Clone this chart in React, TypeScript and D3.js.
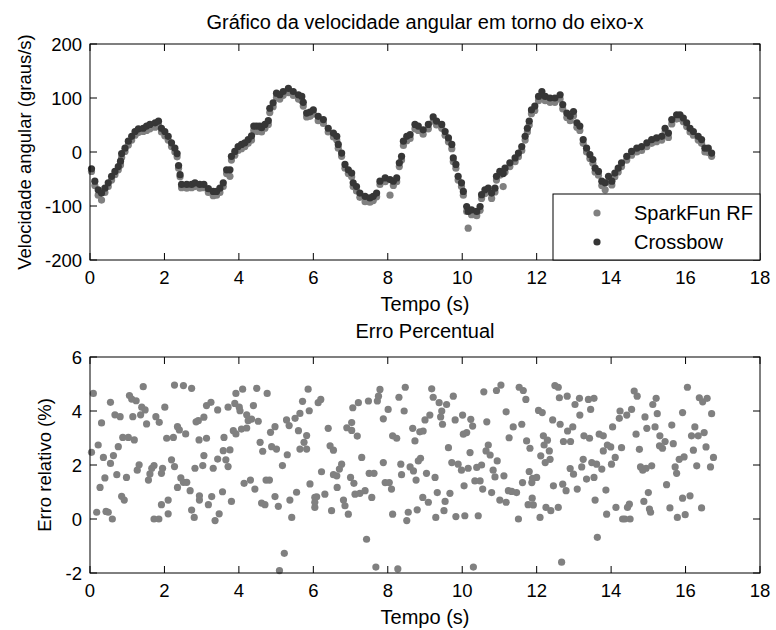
import React from "react";
import * as d3 from "d3";

// tempo (s) das amostras do gráfico superior
const tempo = [
  0.04, 0.13, 0.22, 0.31, 0.4, 0.49, 0.58, 0.67, 0.76, 0.82,
  0.85, 0.94, 1.03, 1.12, 1.21, 1.3, 1.43, 1.52, 1.61, 1.75,
  1.84, 1.92, 2.01, 2.1, 2.19, 2.28, 2.34, 2.38, 2.42, 2.46,
  2.6, 2.73, 2.82, 2.95, 3.06, 3.18, 3.31, 3.4, 3.49, 3.58,
  3.67, 3.76, 3.8, 3.89, 3.98, 4.07, 4.16, 4.25, 4.34, 4.4,
  4.48, 4.56, 4.61, 4.7, 4.79, 4.83, 4.92, 5.01, 5.1, 5.19,
  5.33, 5.46, 5.6, 5.69, 5.73, 5.82, 5.91, 6.0, 6.13, 6.27,
  6.4, 6.54, 6.63, 6.67, 6.76, 6.85, 6.94, 7.03, 7.07, 7.16,
  7.25, 7.39, 7.52, 7.61, 7.7, 7.79, 7.93, 8.06, 8.15, 8.24,
  8.31, 8.37, 8.42, 8.51, 8.6, 8.73, 8.82, 8.95, 9.09, 9.22,
  9.31, 9.45, 9.54, 9.63, 9.72, 9.76, 9.83, 9.89, 9.98, 10.03,
  10.12, 10.16, 10.25, 10.39, 10.48, 10.52, 10.61, 10.7, 10.79, 10.88,
  10.92, 11.01, 11.1, 11.15, 11.28, 11.42, 11.51, 11.6, 11.69, 11.75,
  11.8, 11.86, 11.95, 12.05, 12.14, 12.23, 12.36, 12.49, 12.63, 12.7,
  12.81, 12.9, 12.99, 13.08, 13.16, 13.25, 13.34, 13.43, 13.51, 13.57,
  13.66, 13.75, 13.84, 13.93, 14.02, 14.1, 14.19, 14.28, 14.42, 14.55,
  14.69, 14.82, 14.96, 15.09, 15.22, 15.36, 15.45, 15.54, 15.63, 15.76,
  15.85, 15.94, 16.03, 16.12, 16.21, 16.34, 16.43, 16.52, 16.61, 16.7,
];

const sparkfun = [
  -36, -62, -80, -89, -75, -64, -52, -42, -33, -24,
  -10, 1, 13, 22, 31, 36, 38, 40, 43, 46,
  49, 37, 30, 22, 10, 0, -9, -30, -46, -66,
  -67, -66, -64, -67, -66, -75, -81, -80, -75, -64,
  -40, -45, -15, -6, 3, 6, 10, 16, 22, 40,
  38, 40, 37, 44, 51, 73, 84, 101, 98, 105,
  110, 105, 98, 95, 85, 65, 66, 70, 58, 53,
  37, 28, 22, 7, -8, -30, -40, -46, -64, -72,
  -84, -92, -93, -90, -83, -60, -55, -80, -62, -55,
  -27, -15, 12, 21, 25, 43, 40, 33, 43, 57,
  50, 44, 31, 19, 6, -18, -30, -52, -64, -80,
  -110, -141, -116, -118, -108, -86, -77, -74, -86, -74,
  -52, -43, -64, -37, -27, -18, -9, 3, 22, 37,
  50, 71, 77, 95, 104, 95, 92, 92, 98, 80,
  64, 58, 67, 46, 40, 16, 0, -12, -21, -37,
  -43, -62, -70, -55, -61, -46, -37, -27, -15, -6,
  0, 3, 10, 16, 19, 22, 37, 27, 52, 61,
  62, 56, 47, 37, 31, 22, 16, 0, -1, -8,
];

const crossbow = [
  -31, -54, -70, -76, -67, -57, -45, -36, -27, -17,
  -3, 7, 20, 29, 38, 43, 44, 48, 51, 54,
  57, 44, 38, 29, 17, 7, -3, -25, -42, -60,
  -60, -60, -57, -60, -60, -68, -73, -73, -67, -57,
  -33, -33, -8, 1, 10, 14, 17, 23, 30, 48,
  48, 48, 45, 51, 58, 81, 91, 109, 106, 112,
  118, 112, 106, 103, 92, 72, 74, 78, 66, 60,
  44, 35, 29, 14, -2, -23, -33, -39, -57, -64,
  -76, -82, -85, -82, -76, -54, -48, -51, -54, -48,
  -20, -8, 20, 29, 32, 51, 48, 41, 51, 65,
  57, 51, 38, 26, 14, -11, -23, -45, -57, -73,
  -101, -110, -107, -110, -101, -79, -70, -67, -76, -67,
  -45, -36, -40, -30, -20, -11, -2, 10, 29, 44,
  57, 78, 85, 103, 112, 103, 100, 100, 106, 88,
  72, 66, 75, 54, 48, 23, 7, -5, -14, -30,
  -36, -54, -57, -45, -54, -39, -30, -20, -8, 1,
  7, 10, 17, 23, 26, 29, 44, 35, 60, 69,
  69, 63, 54, 44, 38, 29, 23, 7, 7, -2,
];

// [tempo (s), erro relativo (%)]
const erroRelativo: [number, number][] = [
  [0.09, 4.65], [0.04, 2.47], [0.22, 2.74], [0.31, 3.56], [0.18, 0.25], [0.27, 1.17], [0.36, 2.28], [0.4, 1.52],
  [0.43, 0.28], [0.49, 0.25], [0.55, 4.32], [0.55, 2.06], [0.6, 0.0], [0.63, 2.35], [0.67, 3.86], [0.72, 1.64],
  [0.76, 2.68], [0.81, 3.79], [0.85, 0.84], [0.92, 0.7], [0.88, 3.02], [0.98, 1.54], [1.03, 3.02], [1.06, 4.57],
  [1.12, 4.44], [1.15, 3.79], [1.19, 2.93], [1.24, 4.38], [1.27, 1.81], [1.32, 2.01], [1.36, 3.86], [1.39, 4.14],
  [1.43, 4.9], [1.48, 4.04], [1.52, 3.52], [1.57, 1.44], [1.61, 1.67], [1.66, 1.88], [1.72, 1.98], [1.72, 0.0],
  [1.77, 3.79], [1.85, 0.0], [1.86, 3.58], [1.92, 1.69], [1.95, 1.88], [1.92, 0.53], [2.01, 4.14], [2.06, 2.99],
  [2.1, 0.7], [2.1, 0.19], [2.19, 2.19], [2.24, 3.02], [2.27, 1.94], [2.27, 4.96], [2.35, 1.17], [2.35, 3.42],
  [2.4, 3.3], [2.44, 1.52], [2.51, 4.94], [2.51, 1.36], [2.57, 3.15], [2.6, 1.36], [2.69, 1.05], [2.73, 4.84],
  [2.73, 0.33], [2.8, 0.06], [2.82, 1.88], [2.85, 3.6], [2.91, 3.64], [2.93, 2.93], [2.94, 0.86], [2.94, 0.7],
  [3.03, 1.98], [3.06, 2.35], [3.06, 3.77], [3.13, 2.99], [3.13, 4.2], [3.18, 0.53], [3.25, 4.32], [3.27, 0.83],
  [3.31, 1.88], [3.36, -0.06], [3.43, 4.04], [3.43, 2.22], [3.47, 0.19], [3.56, 1.01], [3.58, 2.53], [3.6, 3.02],
  [3.65, 2.19], [3.71, 1.94], [3.71, 4.14], [3.76, 2.56], [3.8, 0.65], [3.85, 3.27], [3.89, 4.28], [3.92, 3.15],
  [3.92, 4.65], [4.01, 4.14], [4.03, 4.01], [4.07, 3.33], [4.1, 4.81], [4.14, 1.32], [4.21, 3.37], [4.21, 3.86],
  [4.25, 3.64], [4.31, 1.44], [4.34, 3.7], [4.39, 4.2], [4.43, 1.11], [4.48, 4.84], [4.52, 3.62], [4.57, 2.84],
  [4.61, 0.59], [4.64, 2.51], [4.7, 0.53], [4.73, 1.44], [4.76, 4.65], [4.82, 1.44], [4.85, 3.21], [4.88, 2.68],
  [4.97, 3.42], [4.97, 0.83], [5.01, 2.59], [5.06, 0.47], [5.09, -1.91], [5.17, 1.98], [5.22, -1.27], [5.28, 3.67],
  [5.3, 2.38], [5.35, 3.46], [5.37, 0.7], [5.42, 0.06], [5.51, 3.73], [5.55, 0.99], [5.6, 3.27], [5.64, 2.59],
  [5.64, 3.91], [5.71, 4.36], [5.75, 2.84], [5.82, 3.09], [5.82, 2.59], [5.86, 4.81], [5.89, 4.01], [5.91, 1.3],
  [6.04, 0.8], [6.04, 0.62], [6.04, 0.43], [6.09, 0.82], [6.13, 4.31], [6.2, 4.43], [6.22, 1.75], [6.31, 0.92],
  [6.4, 3.36], [6.45, 2.71], [6.49, 0.31], [6.54, 2.55], [6.54, 1.64], [6.63, 1.6], [6.64, 1.17], [6.7, 1.85],
  [6.76, 2.03], [6.81, 0.7], [6.85, 0.49], [6.9, 3.38], [6.94, 0.18], [7.0, 1.54], [7.03, 3.57], [7.03, 3.28],
  [7.06, 4.12], [7.09, 1.32], [7.12, 0.92], [7.18, 3.07], [7.21, 4.31], [7.25, 0.95], [7.3, 2.28], [7.39, 1.05],
  [7.43, -0.75], [7.48, 4.37], [7.5, 1.69], [7.57, 0.8], [7.63, 1.69], [7.68, -1.78], [7.72, 4.37], [7.75, 4.55],
  [7.79, 4.8], [7.88, 3.71], [7.88, 2.09], [7.93, 1.35], [8.01, 4.06], [8.04, 1.35], [8.1, 1.11], [8.13, 0.18],
  [8.13, 3.08], [8.24, 2.99], [8.27, -1.85], [8.3, 4.51], [8.35, 2.03], [8.37, 1.64], [8.44, 4.0], [8.47, 4.88],
  [8.51, -0.06], [8.55, 0.25], [8.6, 1.93], [8.67, 3.36], [8.69, 1.78], [8.73, 2.89], [8.76, 1.44], [8.79, 0.34],
  [8.82, 2.15], [8.86, 3.23], [8.88, 2.25], [8.94, 0.8], [8.95, 3.26], [9.0, 3.67], [9.04, 1.69], [9.09, 0.62],
  [9.13, 3.85], [9.18, 4.82], [9.22, 4.51], [9.27, 1.54], [9.29, 0.06], [9.33, 0.98], [9.38, 4.31], [9.42, 3.78],
  [9.45, 4.0], [9.47, 3.51], [9.51, 0.31], [9.54, 0.65], [9.58, 4.24], [9.63, 2.64], [9.67, 0.95], [9.72, 2.09],
  [9.76, 4.55], [9.81, 3.67], [9.83, 0.09], [9.89, 2.03], [9.98, 1.81], [10.01, 3.85], [10.03, 3.14], [10.05, 1.23],
  [10.07, 0.12], [10.12, 3.2], [10.16, 1.88], [10.21, 2.46], [10.23, 3.69], [10.28, 3.44], [10.3, -1.78], [10.34, 1.41],
  [10.39, 1.91], [10.43, 0.12], [10.48, 1.41], [10.52, 2.0], [10.55, 1.11], [10.58, 4.71], [10.64, 2.52], [10.66, 3.6],
  [10.7, 2.74], [10.75, 2.37], [10.79, 0.98], [10.83, 1.81], [10.88, 1.56], [10.92, 4.76], [10.94, 2.15], [11.01, 0.7],
  [11.04, 4.96], [11.12, 1.6], [11.18, 3.97], [11.18, 0.62], [11.24, 1.05], [11.26, 3.01], [11.33, 1.02], [11.37, 3.41],
  [11.46, 0.98], [11.51, 0.0], [11.53, 4.88], [11.6, 3.51], [11.62, 1.35], [11.64, 4.76], [11.71, 4.43], [11.73, 2.89],
  [11.77, 0.53], [11.8, 1.76], [11.82, 2.62], [11.87, 1.35], [11.91, 0.52], [11.89, 1.51], [12.0, 1.54], [11.88, 0.77],
  [12.05, 4.02], [12.09, 0.06], [12.11, 2.34], [12.15, 3.94], [12.18, 3.08], [12.2, 2.74], [12.23, 2.09], [12.25, 0.43],
  [12.29, 2.92], [12.34, 2.52], [12.36, 2.21], [12.38, 0.31], [12.43, 3.67], [12.45, 1.23], [12.49, 4.94], [12.58, 4.88],
  [12.58, 0.43], [12.61, 4.49], [12.63, 3.51], [12.67, -1.6], [12.7, 1.29], [12.72, 2.87], [12.79, 1.05], [12.82, 4.55],
  [12.83, 3.26], [12.91, 2.87], [12.9, 1.87], [12.97, 3.41], [12.99, 1.66], [13.03, 4.24], [13.09, 1.11], [13.15, 4.47],
  [13.16, 3.85], [13.21, 1.93], [13.25, 2.21], [13.27, 3.08], [13.34, 1.48], [13.39, 4.43], [13.42, 2.99], [13.45, 4.06],
  [13.48, 2.09], [13.54, 4.47], [13.54, 1.54], [13.57, 0.7], [13.61, 2.03], [13.63, -0.68], [13.68, 3.14], [13.75, 1.85],
  [13.79, 3.08], [13.79, 2.52], [13.86, 1.07], [13.88, 0.18], [13.9, 2.74], [13.99, 2.67], [14.01, 2.03], [14.04, 3.41],
  [14.11, 2.28], [14.13, 0.43], [14.22, 3.73], [14.24, 4.0], [14.28, 2.64], [14.31, 0.0], [14.37, 0.0], [14.42, 3.85],
  [14.44, 0.43], [14.49, 0.55], [14.51, 0.0], [14.55, 4.06], [14.62, 4.74], [14.67, 3.14], [14.7, 4.55], [14.76, 2.58],
  [14.79, 1.93], [14.85, 1.81], [14.88, 0.65], [14.91, 3.78], [14.94, 1.88], [14.96, 3.36], [15.0, 0.98], [15.03, 0.37],
  [15.06, 0.25], [15.09, 1.97], [15.12, 4.24], [15.18, 3.41], [15.21, 4.47], [15.24, 3.9], [15.31, 3.08], [15.3, 2.71],
  [15.38, 2.62], [15.45, 2.87], [15.49, 1.27], [15.58, 0.41], [15.63, 3.48], [15.67, 2.79], [15.72, 1.93], [15.76, 1.69],
  [15.78, 0.06], [15.83, 2.21], [15.92, 0.77], [15.92, 3.94], [15.96, 2.3], [15.99, 0.16], [16.05, 4.88], [16.12, 0.86],
  [16.16, 3.08], [16.21, 2.55], [16.25, 3.41], [16.3, 1.97], [16.34, 3.08], [16.37, 4.49], [16.43, 0.41], [16.46, 4.34],
  [16.5, 3.2], [16.55, 2.67], [16.58, 4.47], [16.67, 1.93], [16.7, 3.9], [16.75, 2.28],
];

const xTicks = [0, 2, 4, 6, 8, 10, 12, 14, 16, 18];
const velTicks = [-200, -100, 0, 100, 200];
const erroTicks = [-2, 0, 2, 4, 6];

const series = [
  { nome: "SparkFun RF", valores: sparkfun, cor: "#808080" },
  { nome: "Crossbow", valores: crossbow, cor: "#363636" },
];

const FONT = "'Liberation Sans', Arial, Helvetica, sans-serif";
const FS = 18.5; // ticks e rótulos verticais
const FS_H = 20; // títulos, rótulo x e legenda
const TICK = 7;
const R = 3.6;

const x = d3.scaleLinear().domain([0, 18]).range([90, 760]);
const yVel = d3.scaleLinear().domain([-200, 200]).range([260, 44]);
const yErro = d3.scaleLinear().domain([-2, 6]).range([573, 357]);

function Eixos({
  y,
  yTicks,
  titulo,
  tituloY,
  rotuloY,
  labelX,
}: {
  y: d3.ScaleLinear<number, number>;
  yTicks: number[];
  titulo: string;
  tituloY: number;
  rotuloY: string;
  labelX: number;
}) {
  const [yb, yt] = y.range();
  const [xl, xr] = x.range();
  const yMid = (yb + yt) / 2;
  return (
    <g>
      <rect x={xl} y={yt} width={xr - xl} height={yb - yt} fill="none" stroke="#000" strokeWidth={1} />
      {xTicks.map((t) => (
        <g key={"x" + t}>
          <line x1={x(t)} x2={x(t)} y1={yb} y2={yb - TICK} stroke="#000" />
          <line x1={x(t)} x2={x(t)} y1={yt} y2={yt + TICK} stroke="#000" />
          <text x={x(t)} y={yb + 23.5} textAnchor="middle">
            {String(t)}
          </text>
        </g>
      ))}
      {yTicks.map((t) => (
        <g key={"y" + t}>
          <line x1={xl} x2={xl + TICK} y1={y(t)} y2={y(t)} stroke="#000" />
          <line x1={xr} x2={xr - TICK} y1={y(t)} y2={y(t)} stroke="#000" />
          <text x={xl - 8} y={y(t)} textAnchor="end" dominantBaseline="central">
            {String(t)}
          </text>
        </g>
      ))}
      <text x={(xl + xr) / 2} y={tituloY} textAnchor="middle" fontSize={FS_H}>
        {titulo}
      </text>
      <text x={(xl + xr) / 2} y={yb + 51} textAnchor="middle" fontSize={FS_H}>
        Tempo (s)
      </text>
      <text x={labelX} y={yMid} textAnchor="middle" transform={`rotate(-90, ${labelX}, ${yMid})`}>
        {rotuloY}
      </text>
    </g>
  );
}

export default function App() {
  return (
    <svg
      width={776}
      height={630}
      style={{ position: "absolute", left: 0, top: 0, background: "#fff" }}
      fontFamily={FONT}
      fontSize={FS}
      fill="#000"
    >
      <rect width={776} height={630} fill="#fff" />

      {/* velocidade angular */}
      {series.map((s) => (
        <g key={s.nome} fill={s.cor}>
          {s.valores.map((v, i) => (
            <circle key={i} cx={x(tempo[i])} cy={yVel(v)} r={R} />
          ))}
        </g>
      ))}
      <Eixos
        y={yVel}
        yTicks={velTicks}
        titulo="Gráfico da velocidade angular em torno do eixo-x"
        tituloY={29}
        rotuloY="Velocidade angular (graus/s)"
        labelX={31}
      />

      {/* legenda */}
      <g>
        <rect x={553} y={194} width={207} height={66} fill="#fff" stroke="#000" />
        {series.map((s, i) => (
          <g key={s.nome}>
            <circle cx={597} cy={213 + i * 29} r={R} fill={s.cor} />
            <text x={634} y={213 + i * 29} dominantBaseline="central" fontSize={FS_H}>
              {s.nome}
            </text>
          </g>
        ))}
      </g>

      {/* erro percentual */}
      <g fill="#808080">
        {erroRelativo.map(([t, e], i) => (
          <circle key={i} cx={x(t)} cy={yErro(e)} r={R} />
        ))}
      </g>
      <Eixos
        y={yErro}
        yTicks={erroTicks}
        titulo="Erro Percentual"
        tituloY={338}
        rotuloY="Erro relativo (%)"
        labelX={51}
      />
    </svg>
  );
}
